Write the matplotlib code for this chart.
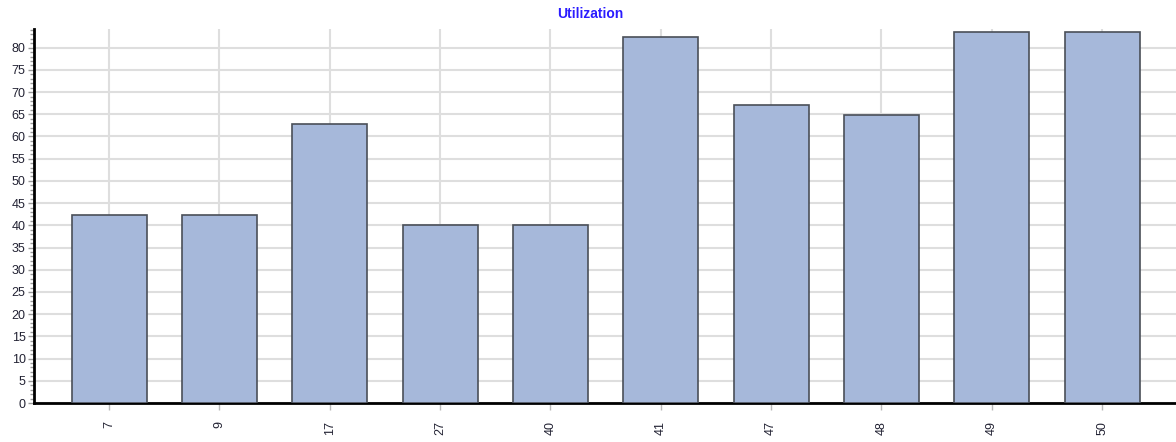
import matplotlib
matplotlib.use("Agg")
import matplotlib.pyplot as plt
from matplotlib.ticker import MultipleLocator

categories = ["7", "9", "17", "27", "40", "41", "47", "48", "49", "50"]
utilization = [42.3, 42.3, 62.9, 40.1, 40.1, 82.4, 67.1, 64.9, 83.5, 83.5]

W, H = 1176, 442
fig = plt.figure(figsize=(W / 100, H / 100), dpi=100)
ax = fig.add_axes([34 / W, (H - 403) / H, (1176 - 34) / W, (403 - 29) / H])

x = range(len(categories))
ax.bar(x, utilization, width=0.68, color="#a6b8da", edgecolor="#4a4f58",
       linewidth=1.2, zorder=3)

ax.set_xlim(-0.68, 9.67)
ax.set_ylim(0, 84.2)
ax.set_xticks(list(x))
ax.set_xticklabels(categories, rotation=90, fontsize=9, family="Liberation Sans",
                   color="#222233")
ax.yaxis.set_major_locator(MultipleLocator(5))
ax.yaxis.set_minor_locator(MultipleLocator(1))
for lbl in ax.get_yticklabels():
    lbl.set_fontsize(9)
    lbl.set_family("Liberation Sans")
    lbl.set_color("#222233")

ax.grid(True, which="major", color="#dedede", linewidth=1.5, zorder=0)
ax.tick_params(axis="y", which="major", length=4, width=1, color="#999999", pad=2)
ax.tick_params(axis="y", which="minor", length=3, width=1, color="#999999")
ax.tick_params(axis="x", which="major", length=5, width=1, color="#bbbbbb", pad=8)

for side in ("top", "right"):
    ax.spines[side].set_visible(False)
ax.spines["left"].set_linewidth(2)
ax.spines["bottom"].set_linewidth(2)
ax.spines["left"].set_color("black")
ax.spines["bottom"].set_color("black")

fig.text(590 / W, 1 - 14 / H, "Utilization", color="#2b1cff",
         fontsize=10, fontweight="bold", family="Liberation Sans",
         ha="center", va="center")

fig.savefig("out.png", dpi=100)
